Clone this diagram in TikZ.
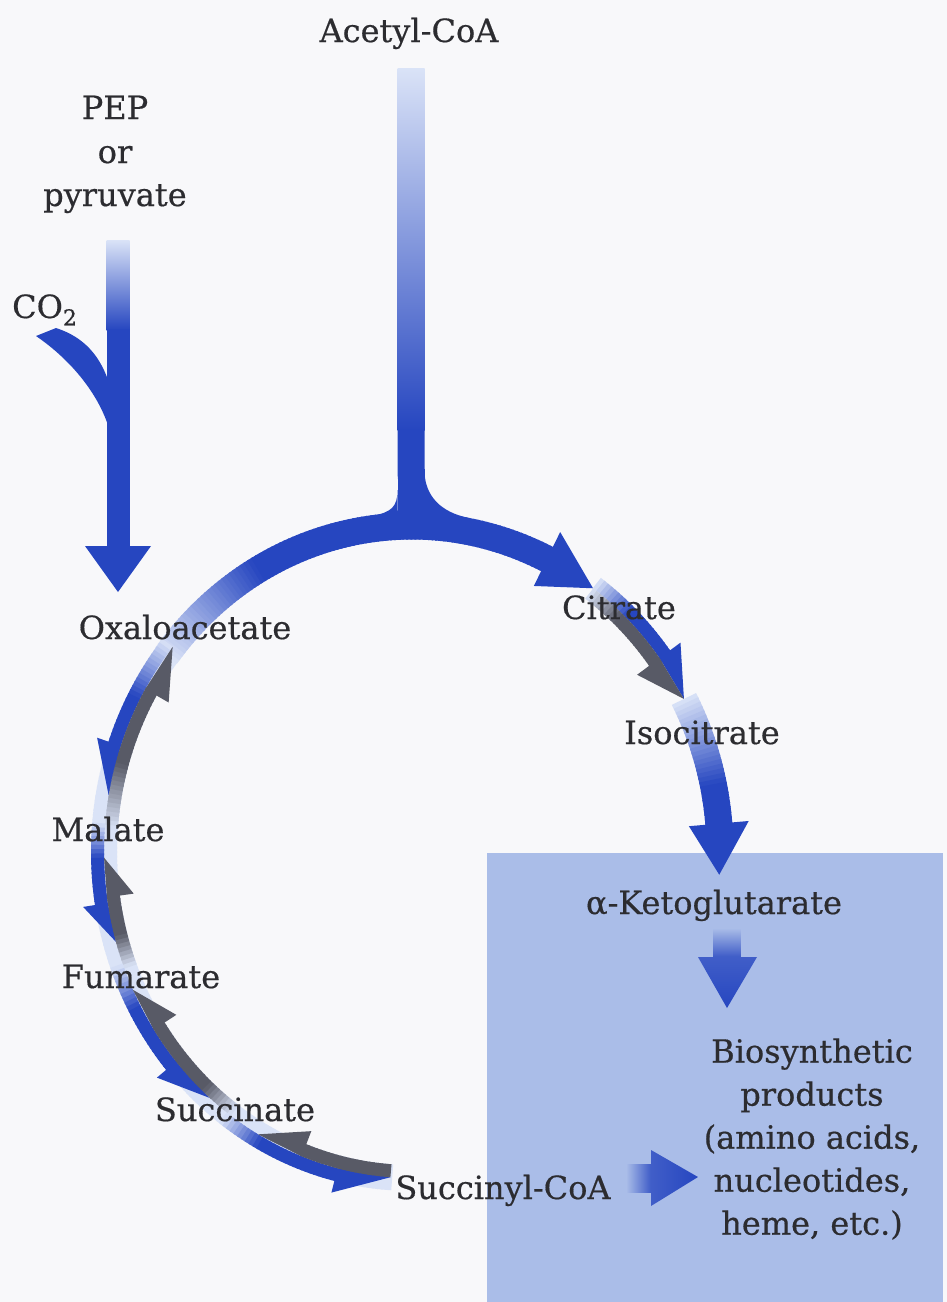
\documentclass[tikz,border=0pt]{standalone}
\usepackage{fontspec}
\setmainfont{DejaVu Serif}[FakeBold=0.5]
\definecolor{bgc}{RGB}{248,248,250}
\definecolor{arrowblue}{RGB}{38,70,192}
\definecolor{arrowgray}{RGB}{88,90,102}
\definecolor{paleblue}{RGB}{218,227,247}
\definecolor{boxblue}{RGB}{170,189,232}
\definecolor{txt}{RGB}{44,44,48}
\pgfkeys{/cyc/.is family, /cyc/t/.store in=\cyct, /cyc/d/.store in=\cycd}
\tikzdeclarecoordinatesystem{cyc}{%
  \pgfkeys{/cyc/t=0,/cyc/d=0}\pgfkeys{/cyc/.cd,#1}%
  \pgfmathsetmacro\cycx{412+(308+\cycd)*cos(\cyct)}%
  \pgfmathsetmacro\cycy{852-(326+\cycd)*sin(\cyct)}%
  \pgfpointxy{\cycx}{\cycy}%
}
% band segment along the cycle: t-start, t-end, offset, width, start colour, end colour
\newcommand\cycseg[6]{%
  \pgfmathtruncatemacro\segn{max(1,round(abs(#2-#1)/0.8))}%
  \pgfmathsetmacro\segstep{(#2-#1)/\segn}%
  \foreach \k in {1,...,\segn}{%
    \pgfmathsetmacro\ta{#1+\segstep*(\k-1)}%
    \pgfmathsetmacro\tb{#1+\segstep*(\k+0.4)}%
    \pgfmathtruncatemacro\pc{(\k-0.5)/\segn*100}%
    \draw[line width=#4, color=#6!\pc!#5] (cyc cs:t=\ta,d=#3) -- (cyc cs:t=\tb,d=#3);
  }%
}
% full head: t-base, t-tip, half width, colour
\newcommand\cychead[4]{%
  \fill[#4] (cyc cs:t=#1,d=#3) -- (cyc cs:t=#1,d=-#3) -- (cyc cs:t=#2,d=0) -- cycle;}
% half head: t-base, t-tip, barb offset, colour
\newcommand\cychalf[4]{%
  \fill[#4] (cyc cs:t=#1,d=0) -- (cyc cs:t=#1,d=#3) -- (cyc cs:t=#2,d=0) -- cycle;}
\begin{document}
\begin{tikzpicture}[x=1pt,y=-1pt,
  lbl/.style={font=\fontsize{32}{43}\selectfont, text=txt, inner sep=0pt, anchor=base}]
\useasboundingbox (0,0) rectangle (947,1302);
\fill[bgc] (0,0) rectangle (947,1302);
\fill[boxblue] (487,853) rectangle (943,1302);

% PEP / pyruvate arrow
\shade[top color=paleblue, bottom color=arrowblue] (106.5,240) rectangle (129.5,330);
\fill[arrowblue] (106.5,329) rectangle (129.5,548);
\fill[arrowblue] (85,546) -- (151,546) -- (118,592) -- cycle;
% CO2 branch
\fill[arrowblue] (36,336) -- (56,328) .. controls (84,337) and (101,356) .. (110,386)
  -- (110,432) .. controls (101,398) and (74,362) .. (36,336) -- cycle;

% Acetyl-CoA arrow
\shade[top color=paleblue, bottom color=arrowblue] (397.5,68) rectangle (424.5,430);
\draw[arrowblue, line width=27pt] (411,429) -- (411,470) .. controls (411,505) and (435,525) .. (cyc cs:t=80,d=0);
\fill[arrowblue] (397.5,469) rectangle (424.5,530);
\fill[arrowblue] (397.5,490) .. controls (397.5,507) and (391,512) .. (374,515.5)
  -- (374,532) -- (398,532) -- cycle;

% pale base of the left side
\cycseg{140}{266}{0}{26pt}{paleblue}{paleblue}

% main arc to citrate
\cycseg{143}{120}{0}{27pt}{paleblue}{arrowblue}
\cycseg{120}{63}{0}{27pt}{arrowblue}{arrowblue}
\cychead{64}{54}{30}{arrowblue}

% citrate -> isocitrate
\cycseg{54}{46}{6.5}{13pt}{paleblue}{arrowblue}
\cycseg{46}{36}{6.5}{13pt}{arrowblue}{arrowblue}
\cycseg{54}{47}{-6.5}{13pt}{paleblue}{arrowgray}
\cycseg{47}{36}{-6.5}{13pt}{arrowgray}{arrowgray}
\cychalf{36.5}{28}{26}{arrowblue}
\cychalf{36.5}{28}{-28}{arrowgray}

% isocitrate -> alpha-ketoglutarate
\cycseg{28}{12}{0}{27pt}{paleblue}{arrowblue}
\cycseg{12}{4.5}{0}{27pt}{arrowblue}{arrowblue}
\cychead{5}{-4}{30}{arrowblue}

% oxaloacetate <-> malate
\cycseg{141}{152}{6.5}{13pt}{paleblue}{arrowblue}
\cycseg{152}{161}{6.5}{13pt}{arrowblue}{arrowblue}
\cychalf{161}{170}{25}{arrowblue}
\cycseg{176}{164}{-6.5}{13pt}{paleblue}{arrowgray}
\cycseg{164}{150}{-6.5}{13pt}{arrowgray}{arrowgray}
\cychalf{150}{141}{-27}{arrowgray}

% malate <-> fumarate
\cycseg{175}{181}{6.5}{13pt}{paleblue}{arrowblue}
\cycseg{181}{189}{6.5}{13pt}{arrowblue}{arrowblue}
\cychalf{189}{196}{25}{arrowblue}
\cycseg{201}{195}{-6.5}{13pt}{paleblue}{arrowgray}
\cycseg{195}{188}{-6.5}{13pt}{arrowgray}{arrowgray}
\cychalf{188}{181}{-27}{arrowgray}

% fumarate <-> succinate
\cycseg{200}{208}{6.5}{13pt}{paleblue}{arrowblue}
\cycseg{208}{220}{6.5}{13pt}{arrowblue}{arrowblue}
\cychalf{220}{229}{25}{arrowblue}
\cycseg{234}{227}{-6.5}{13pt}{paleblue}{arrowgray}
\cycseg{227}{213}{-6.5}{13pt}{arrowgray}{arrowgray}
\cychalf{213}{205}{-27}{arrowgray}

% succinate <-> succinyl-CoA
\cycseg{233}{241}{6.5}{13pt}{paleblue}{arrowblue}
\cycseg{241}{256}{6.5}{13pt}{arrowblue}{arrowblue}
\cychalf{256}{266}{25}{arrowblue}
\cycseg{266}{249}{-6.5}{13pt}{arrowgray}{arrowgray}
\cychalf{249}{240}{-27}{arrowgray}

% arrows inside the box
\shade[top color=boxblue, bottom color=arrowblue!85!boxblue] (713.5,928) rectangle (740.5,958);
\shade[top color=arrowblue!80!boxblue, bottom color=arrowblue] (698,957) -- (757,957) -- (727,1008) -- cycle;
\shade[left color=boxblue, right color=arrowblue!85!boxblue] (626,1164) rectangle (652,1192);
\shade[left color=arrowblue!80!boxblue, right color=arrowblue] (651,1150) -- (651,1206) -- (698,1177) -- cycle;

% labels
\node[lbl] (acetyl) at (409,42) {Acetyl-CoA};
\node[lbl] (pep) at (115,119) {PEP};
\node[lbl] (or) at (115,163) {or};
\node[lbl] (pyr) at (115,206) {pyruvate};
\node[lbl, anchor=base west] (co2) at (12,318) {CO\raisebox{-0.45ex}{\fontsize{22}{22}\selectfont 2}};
\node[lbl] (oaa) at (185,639) {Oxaloacetate};
\node[lbl] (cit) at (619,619) {Citrate};
\node[lbl] (iso) at (702,744) {Isocitrate};
\node[lbl] (mal) at (108,841) {Malate};
\node[lbl] (fum) at (141,988) {Fumarate};
\node[lbl] (suc) at (235,1121) {Succinate};
\node[lbl] (succoa) at (503,1199) {Succinyl-CoA};
\node[lbl] (akg) at (714,914) {α-Ketoglutarate};
\node[lbl, anchor=center, align=center] (bio) at (812,1139)
  {Biosynthetic\\products\\(amino acids,\\nucleotides,\\heme, etc.)};
\end{tikzpicture}
\end{document}
